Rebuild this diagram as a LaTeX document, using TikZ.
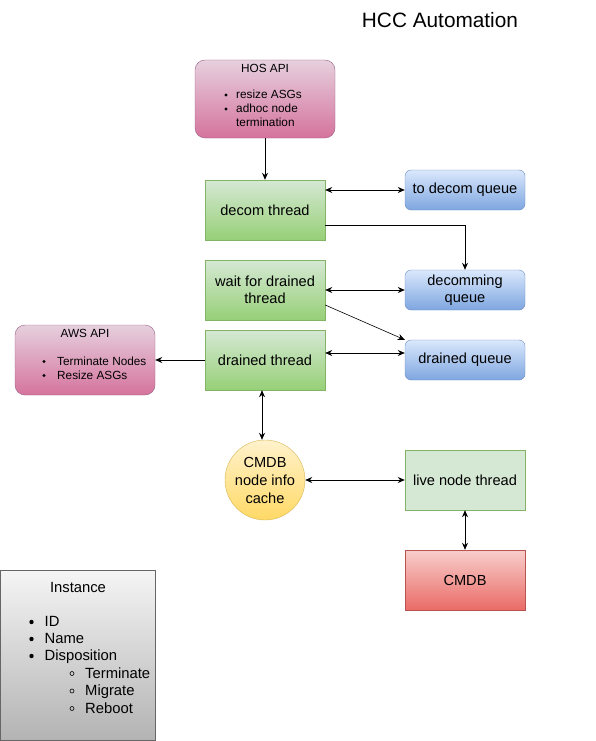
\documentclass[tikz,border=0pt]{standalone}
\usepackage{fontspec}
\setmainfont{Liberation Sans}
\usetikzlibrary{arrows.meta,calc}
\definecolor{pinkT}{HTML}{E6D0DE}
\definecolor{pinkB}{HTML}{D5739D}
\definecolor{pinkS}{HTML}{996185}
\definecolor{greenT}{HTML}{D5E8D4}
\definecolor{greenB}{HTML}{97D077}
\definecolor{greenS}{HTML}{82B366}
\definecolor{blueT}{HTML}{DAE8FC}
\definecolor{blueB}{HTML}{7EA6E0}
\definecolor{blueS}{HTML}{6C8EBF}
\definecolor{yelT}{HTML}{FFF2CC}
\definecolor{yelB}{HTML}{FFD966}
\definecolor{yelS}{HTML}{D6B656}
\definecolor{redT}{HTML}{F8CECC}
\definecolor{redB}{HTML}{EA6B66}
\definecolor{redS}{HTML}{B85450}
\definecolor{grayT}{HTML}{F5F5F5}
\definecolor{grayB}{HTML}{B3B3B3}
\definecolor{grayS}{HTML}{666666}
\tikzset{
  box/.style={draw, minimum width=120pt, minimum height=60pt, align=center, font=\fontsize{14.6}{17.5}\selectfont, inner sep=1pt},
  greenbox/.style={box, draw=greenS, top color=greenT, bottom color=greenB},
  queuebox/.style={box, rounded corners=6pt, minimum height=40pt, draw=blueS, top color=blueT, bottom color=blueB},
  apibox/.style={draw=pinkS, rounded corners=10pt, top color=pinkT, bottom color=pinkB},
  smalltxt/.style={font=\fontsize{11.8}{14}\selectfont, anchor=base west, inner sep=0pt},
  bigtxt/.style={font=\fontsize{14.8}{17}\selectfont, anchor=base west, inner sep=0pt},
  conn/.style={-{Stealth[length=7pt,width=6pt]}, line width=0.8pt},
  bconn/.style={{Stealth[length=7pt,width=6pt]}-{Stealth[length=7pt,width=6pt]}, line width=0.8pt},
}
\begin{document}
\begin{tikzpicture}[x=1pt,y=-1pt]
\useasboundingbox (0,0) rectangle (596,741);
\node[font=\fontsize{20.8}{24}\selectfont] (title) at (440,20) {HCC Automation};

% HOS API
\node[apibox, minimum width=140pt, minimum height=78pt] (hos) at (265,99) {};
\node[font=\fontsize{11.8}{14}\selectfont] (host) at (265,68) {HOS API};
\fill (226,95) circle (1.7pt);
\fill (226,109) circle (1.7pt);
\node[smalltxt] (hos1) at (236,98.5) {resize ASGs};
\node[smalltxt] (hos2) at (236,112.5) {adhoc node};
\node[smalltxt] (hos3) at (236,126.5) {termination};

% threads
\node[greenbox] (decom) at (265,210) {decom thread};
\node[greenbox] (wait) at (265,290) {wait for drained\\thread};
\node[greenbox] (drained) at (265,360) {drained thread};

% queues
\node[queuebox] (todecom) at (465,190) {to decom queue};
\node[queuebox] (decomming) at (465,290) {decomming\\queue};
\node[queuebox] (drainedq) at (465,360) {drained queue};

% AWS API
\node[apibox, minimum width=140pt, minimum height=70pt] (aws) at (85,360) {};
\node[font=\fontsize{11.8}{14}\selectfont] (awst) at (85,333) {AWS API};
\fill (44,361.5) circle (1.7pt);
\fill (44,375.5) circle (1.7pt);
\node[smalltxt] (aws1) at (57,365) {Terminate Nodes};
\node[smalltxt] (aws2) at (57,379) {Resize ASGs};

% cache
\node[circle, draw=yelS, top color=yelT, bottom color=yelB, minimum size=80pt, inner sep=0pt, align=center, font=\fontsize{14.6}{18}\selectfont] (cache) at (265,480) {CMDB\\node info\\cache};

\node[box, draw=greenS, fill=greenT] (live) at (465,480) {live node thread};
\node[box, draw=redS, top color=redT, bottom color=redB] (cmdb) at (465,580) {CMDB};

% Instance
\node[draw=grayS, top color=grayT, bottom color=grayB, minimum width=155pt, minimum height=170pt, inner sep=0pt] (inst) at (78,655) {};
\node[font=\fontsize{14.8}{17}\selectfont] (instt) at (78,587) {Instance};
\fill (31.5,622) circle (2.2pt);
\fill (31.5,639) circle (2.2pt);
\fill (31.5,656) circle (2.2pt);
\node[bigtxt] (i1) at (44.5,626.5) {ID};
\node[bigtxt] (i2) at (44.5,643.5) {Name};
\node[bigtxt] (i3) at (44.5,660.5) {Disposition};
\draw[line width=0.6pt] (72,673.5) circle (2pt);
\draw[line width=0.6pt] (72,691) circle (2pt);
\draw[line width=0.6pt] (72,708.5) circle (2pt);
\node[bigtxt] (i4) at (85,678) {Terminate};
\node[bigtxt] (i5) at (85,695.5) {Migrate};
\node[bigtxt] (i6) at (85,713) {Reboot};

% connectors
\draw[conn] (hos.south) -- (decom.north);
\draw[bconn] (todecom.west -| decom.east) -- (todecom.west);
\draw[conn] ([yshift=-15pt]decom.east) -| (decomming.north);
\draw[bconn] (wait.east) -- (decomming.west);
\draw[conn, line width=0.6pt] ([yshift=-15pt]wait.east) -- (drainedq.north west);
\draw[bconn] ([yshift=7pt]drained.east) -- ([yshift=7pt]drainedq.west);
\draw[conn] (drained.west) -- (aws.east);
\draw[bconn] ([xshift=-3pt]drained.south) -- ([xshift=-3pt]cache.north);
\draw[bconn] (cache.east) -- (live.west);
\draw[bconn] (live.south) -- (cmdb.north);
\end{tikzpicture}
\end{document}
